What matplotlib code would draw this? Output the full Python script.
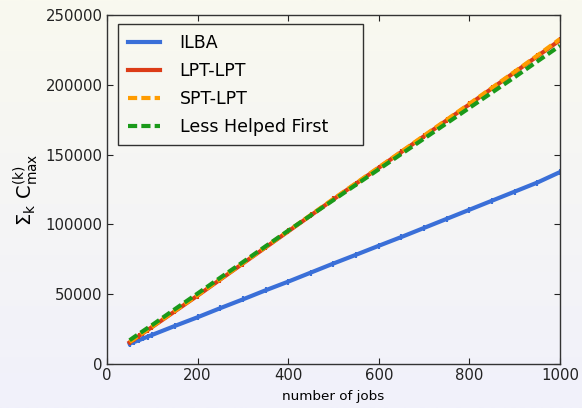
import numpy as np
import matplotlib
matplotlib.use("Agg")
import matplotlib.pyplot as plt
from matplotlib.colors import LinearSegmentedColormap

jobs = [50, 60, 70, 80, 90, 100, 150, 200, 250, 300, 350, 400, 450, 500,
        550, 600, 650, 700, 750, 800, 850, 900, 950, 1000]
ilba = [14500, 15800, 17000, 18300, 19600, 20900, 27300, 33500, 40000, 46300,
        52800, 59000, 65500, 72000, 78300, 84700, 91000, 97500, 104000, 110500,
        117000, 123500, 130000, 137500]
lpt_lpt = [15500, 17700, 20000, 22200, 24400, 26600, 37800, 49000, 60500, 72000,
           83500, 95000, 106500, 118000, 129300, 140600, 151900, 163200, 174600,
           186000, 197500, 209000, 220500, 232000]
spt_lpt = [15800, 18000, 20300, 22500, 24700, 26900, 38100, 49300, 60800, 72300,
           83800, 95300, 106800, 118300, 129600, 140900, 152200, 163600, 175000,
           186400, 197900, 209400, 221000, 232800]
lhf = [17000, 19300, 21500, 23700, 25900, 28000, 39300, 50500, 61800, 73000,
       84300, 95500, 106500, 117500, 128500, 139500, 150500, 161500, 172500,
       183500, 194500, 205500, 216800, 228000]

plt.rcParams['font.family'] = ['DejaVu Sans']
plt.rcParams['mathtext.fontset'] = 'dejavusans'

fig = plt.figure(figsize=(5.82, 4.08), dpi=100)
bg = fig.add_axes([0, 0, 1, 1], zorder=-10)
grad = np.linspace(0, 1, 256).reshape(-1, 1)
cmap = LinearSegmentedColormap.from_list('bg', ['#f9f9ef', '#f1f1fb'])
bg.imshow(grad, aspect='auto', cmap=cmap, extent=[0, 1, 0, 1])
bg.axis('off')

ax = fig.add_axes([0.1838, 0.1078, 0.7784, 0.8554])
ax.set_facecolor('none')

c_blue, c_red, c_orange, c_green = '#3a6fd8', '#dc3c17', '#ff9c00', '#1a9a1a'
ax.plot(jobs, ilba, color=c_blue, lw=3, label='ILBA')
ax.plot(jobs, ilba, color=c_blue, lw=0, marker='|', ms=4, mew=1.5)
ax.plot(jobs, lpt_lpt, color=c_red, lw=3, label='LPT-LPT')
ax.plot(jobs, lpt_lpt, color=c_red, lw=0, marker='|', ms=4, mew=1.5)
ax.plot(jobs, spt_lpt, color=c_orange, lw=3, ls=(0, (2.2, 1)), label='SPT-LPT')
ax.plot(jobs, lhf, color=c_green, lw=3, ls=(0, (2.2, 1)), label='Less Helped First')

ax.set_xlim(0, 1000)
ax.set_ylim(0, 250000)
ax.set_xticks([0, 200, 400, 600, 800, 1000])
ax.set_yticks([0, 50000, 100000, 150000, 200000, 250000])
ax.tick_params(direction='in', length=4, top=True, right=True, labelsize=10.7,
               colors='#222222', width=0.8, pad=3)
for s in ax.spines.values():
    s.set_color('#333333')
    s.set_linewidth(1.0)

ax.set_xlabel('number of jobs', fontsize=9.7, labelpad=5)
ax.set_ylabel(r'$\mathregular{\Sigma_k\ C_{max}^{(k)}}$', fontsize=14, labelpad=4)

leg = ax.legend(loc='upper left', bbox_to_anchor=(0.0243, 0.0, 0.541, 0.974),
                mode='expand', fontsize=12.5,
                frameon=True, fancybox=False, edgecolor='black', facecolor='none',
                handlelength=1.85, handletextpad=1.15, labelspacing=0.58,
                borderpad=0.55, borderaxespad=0.0)
leg.get_frame().set_linewidth(1.0)

fig.savefig('out.png', dpi=100)
